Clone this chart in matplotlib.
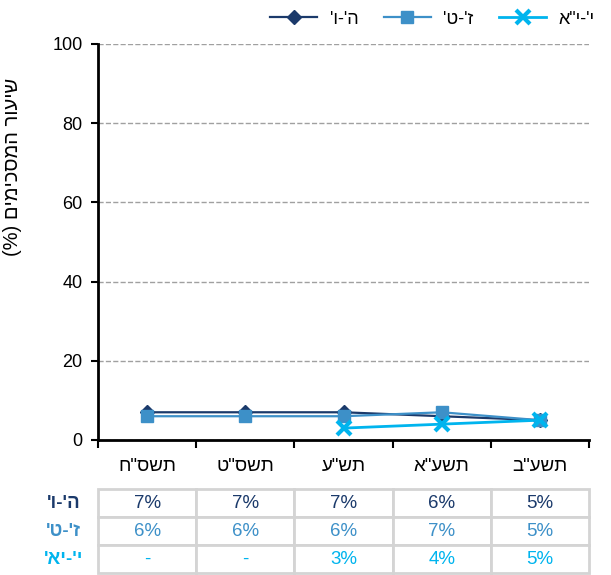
import matplotlib
matplotlib.use("Agg")
import matplotlib.pyplot as plt
import numpy as np

plt.rcParams["font.family"] = ["Liberation Sans", "DejaVu Sans"]

# Hebrew strings are stored in visual (left-to-right) order, since matplotlib has no bidi
years = ['ח"סשת', 'ט"סשת', 'ע"שת', 'א"עשת', 'ב"עשת']
series_names = ["'ו-'ה", "'ט-'ז", 'א"י-\'י']
row_labels = ["'ו-'ה", "'ט-'ז", "'אי-'י"]
grade_5_6 = [7, 7, 7, 6, 5]
grade_7_9 = [6, 6, 6, 7, 5]
grade_10_11 = [np.nan, np.nan, 3, 4, 5]
ylabel = "(%) םימיכסמה רועיש"

colors = ["#1B3A6B", "#3D90C8", "#00B4EE"]
markers = ["D", "s", "x"]

fig = plt.figure(figsize=(6.11, 5.75), dpi=100)
ax = fig.add_axes([0.1604, 0.2348, 0.8036, 0.6887])

x = np.arange(len(years))
values = [grade_5_6, grade_7_9, grade_10_11]
for vals, name, c, m in zip(values, series_names, colors, markers):
    if m == "x":
        ax.plot(x, vals, color=c, lw=2, marker=m, ms=10, mew=3, label=name, zorder=3)
    else:
        ax.plot(x, vals, color=c, lw=1.6, marker=m, ms=8 if m == "s" else 7,
                label=name, zorder=3)

ax.set_xlim(-0.5, len(years) - 0.5)
ax.set_ylim(0, 100)
ax.set_yticks(np.arange(0, 101, 20))
ax.yaxis.grid(True, linestyle="--", color="#A0A0A0", lw=1)
ax.set_axisbelow(True)
ax.spines["top"].set_visible(False)
ax.spines["right"].set_visible(False)
ax.spines["left"].set_linewidth(2)
ax.spines["bottom"].set_linewidth(2)
ax.set_xticks(x)
ax.set_xticklabels(years, fontsize=13.5)
ax.set_xticks(np.arange(-0.5, len(years), 1), minor=True)
ax.tick_params(axis="x", which="major", length=0, pad=13)
ax.tick_params(axis="x", which="minor", length=6, width=1.5, direction="out")
ax.tick_params(axis="y", length=5, width=1.5, labelsize=13, pad=6)
ax.set_ylabel(ylabel, fontsize=14.5)
ax.yaxis.set_label_coords(-0.155, 0.69)

leg = fig.legend(loc="upper right", bbox_to_anchor=(1.0, 1.01), ncol=3, frameon=False,
                 fontsize=13, handlelength=2.6, columnspacing=1.4, handletextpad=0.7)

# data table under the chart
cell_text = []
for vals in values:
    row = []
    for v in vals:
        row.append("-" if np.isnan(v) else f"{int(v)}%")
    cell_text.append(row)
table_rows = [[lab] + r for lab, r in zip(row_labels, cell_text)]
lab_w = 0.14
tbl = ax.table(cellText=table_rows, cellLoc="center",
               colWidths=[lab_w] + [0.2] * len(years),
               bbox=[-lab_w, -0.336, 1 + lab_w, 0.212])
tbl.auto_set_font_size(False)
tbl.set_fontsize(13.5)
for (r, c), cell in tbl.get_celld().items():
    cell.set_edgecolor("#D4D4D4")
    cell.set_linewidth(2)
    txt = cell.get_text()
    txt.set_color(colors[r])
    if c == 0:
        cell.visible_edges = ""
        txt.set_fontweight("bold")
        cell._loc = "right"
        cell.PAD = 0.2

fig.savefig("out.png", dpi=100)
